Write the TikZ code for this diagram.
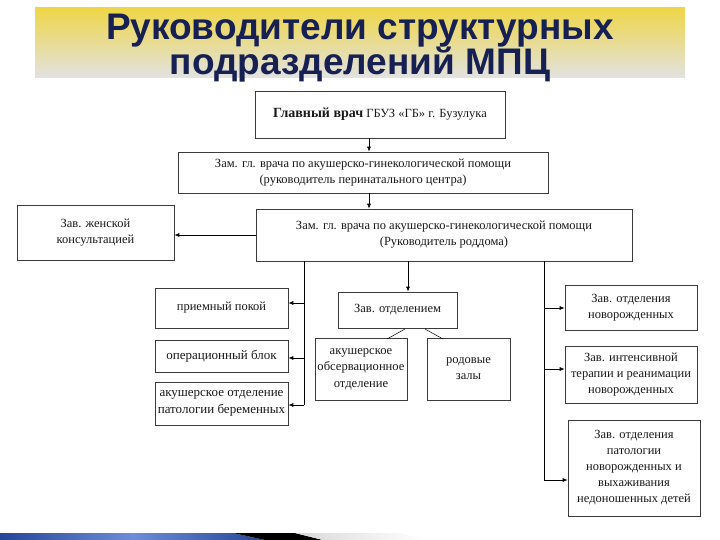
\documentclass[tikz,border=0pt]{standalone}
\usepackage{fontspec}
\setmainfont{Liberation Serif}
\newfontfamily\titlefont{Liberation Sans}
\usetikzlibrary{arrows.meta}
\definecolor{titleblue}{RGB}{22,32,82}
\definecolor{bandtop}{RGB}{238,214,72}
\definecolor{bandmid}{RGB}{236,222,130}
\definecolor{bandbot}{RGB}{226,226,226}
\definecolor{stripdark}{RGB}{36,70,150}
\definecolor{striplight}{RGB}{110,140,215}
\definecolor{boxline}{RGB}{60,60,60}
\tikzset{
  box/.style={draw=boxline, line width=0.6pt, fill=white, align=center, inner sep=1pt,
    font=\fontsize{12.5}{16}\selectfont, text=black!90},
  bigtext/.style={font=\fontsize{13}{16.5}\selectfont},
  arr/.style={-{Latex[length=5pt,width=4pt]}, line width=0.7pt, draw=black},
  conn/.style={line width=0.7pt, draw=black},
  ttl/.style={font=\titlefont\bfseries\fontsize{37}{42}\selectfont, text=titleblue, anchor=base}
}
\begin{document}
\begin{tikzpicture}[x=1pt,y=-1pt]
\useasboundingbox (0,0) rectangle (720,540);
\fill[white] (0,0) rectangle (720,540);
% title band
\shade[top color=bandtop, middle color=bandmid, bottom color=bandbot] (35,8) rectangle (685,78);
\node[ttl] (t1) at (360,40) {Руководители структурных};
\node[ttl] (t2) at (360,75) {подразделений МПЦ};
% bottom strip
\shade[left color=stripdark, right color=stripdark, middle color=striplight] (0,533) -- (233,533) -- (265,540) -- (0,540) -- cycle;
\fill[black] (233,533) -- (295,533) -- (323,540) -- (265,540) -- cycle;
\shade[left color=black!15, right color=white] (295,533) -- (400,533) -- (425,540) -- (323,540) -- cycle;
% boxes
\node[box, minimum width=250pt, minimum height=47pt] (b1) at (380,114.5)
  {{\fontsize{14}{16}\selectfont\bfseries Главный врач} ГБУЗ «ГБ» г. Бузулука};
\node[box, minimum width=370pt, minimum height=41pt] (b2) at (363,172.5)
  {Зам. гл. врача по акушерско-гинекологической помощи\\(руководитель перинатального центра)};
\node[box, minimum width=157pt, minimum height=55pt] (b3) at (95.5,232.5)
  {Зав. женской\\консультацией};
\node[box, minimum width=376pt, minimum height=52pt] (b4) at (444,235)
  {Зам. гл. врача по акушерско-гинекологической помощи\\(Руководитель роддома)};
\node[box, minimum width=133pt, minimum height=40pt] (b5) at (221.5,308)
  {приемный покой};
\node[box, bigtext, minimum width=133pt, minimum height=32pt] (b6) at (221.5,356)
  {операционный блок};
\node[box, bigtext, minimum width=133pt, minimum height=43pt] (b7) at (221.5,403.5)
  {акушерское отделение\\патологии беременных};
\node[box, minimum width=119pt, minimum height=36pt] (b8) at (397.5,310)
  {Зав. отделением};
\node[box, font=\fontsize{12.6}{16.5}\selectfont, minimum width=92pt, minimum height=62pt] (b9) at (361,369)
  {акушерское\\обсервационное\\отделение};
\node[box, minimum width=83pt, minimum height=62pt] (b10) at (468.5,369)
  {родовые\\залы};
\node[box, minimum width=132pt, minimum height=45pt] (b11) at (631,307.5)
  {Зав. отделения\\новорожденных};
\node[box, minimum width=132pt, minimum height=57pt] (b12) at (631,374.5)
  {Зав. интенсивной\\терапии и реанимации\\новорожденных};
\node[box, minimum width=132pt, minimum height=96pt] (b13) at (634,468)
  {Зав. отделения\\патологии\\новорожденных и\\выхаживания\\недоношенных детей};
% helper coordinates
\coordinate (cx) at (369,0);
\coordinate (lt) at (304,0);
\coordinate (mt) at (408,0);
\coordinate (rt) at (544,0);
\coordinate (l5) at (304,303);
\coordinate (l6) at (304,358);
\coordinate (l7) at (304,405);
\coordinate (r11) at (544,308);
\coordinate (r12) at (544,369);
\coordinate (r13) at (544,480);
\coordinate (d1a) at (405,329);
\coordinate (d1b) at (387,339);
\coordinate (d2a) at (425,329);
\coordinate (d2b) at (443,339);
% connectors
\draw[arr] (b1.south -| cx) -- (b2.north -| cx);
\draw[arr] (b2.south -| cx) -- (b4.north -| cx);
\draw[arr] (b4.west) -- (b3.east |- b4.west);
\draw[conn] (b4.south -| lt) -- (l7);
\draw[arr] (l5) -- (b5.east |- l5);
\draw[arr] (l6) -- (b6.east |- l6);
\draw[arr] (l7) -- (b7.east |- l7);
\draw[arr] (b4.south -| mt) -- (b8.north -| mt);
\draw[conn] (b4.south -| rt) -- (r13);
\draw[arr] (r11) -- (b11.west |- r11);
\draw[arr] (r12) -- (b12.west |- r12);
\draw[arr] (r13) -- (b13.west |- r13);
\draw[conn, line width=0.5pt] (d1a) -- (d1b);
\draw[conn, line width=0.5pt] (d2a) -- (d2b);
\end{tikzpicture}
\end{document}
